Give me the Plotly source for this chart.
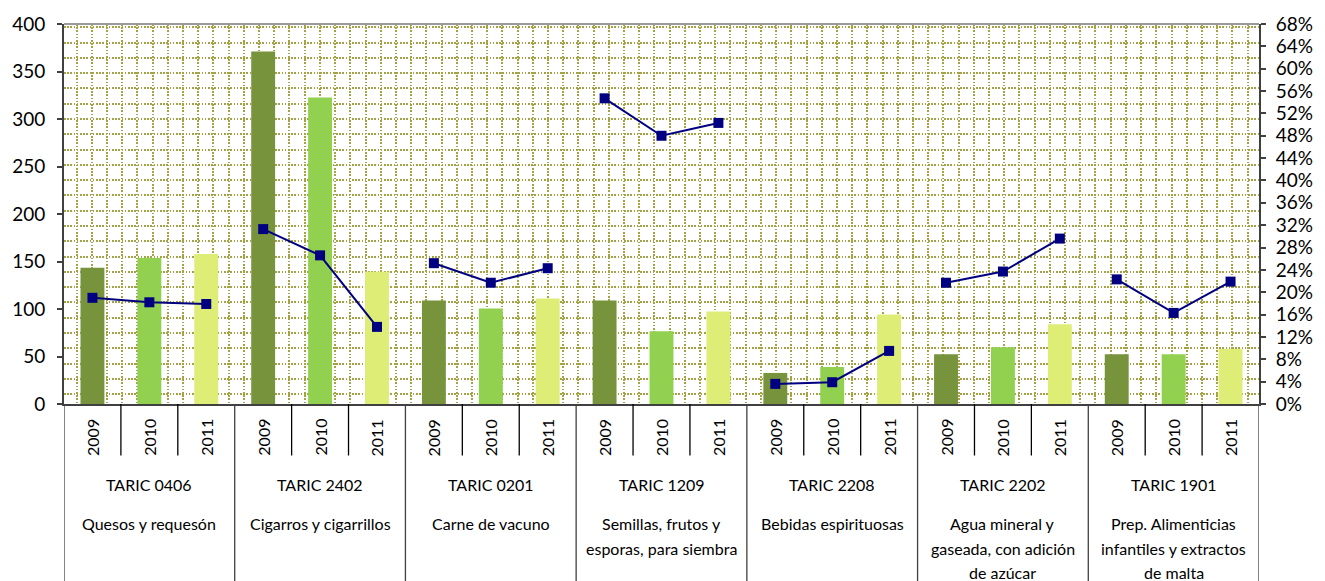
import plotly.graph_objects as go

# ---------------- data ----------------
codes = ["TARIC 0406", "TARIC 2402", "TARIC 0201", "TARIC 1209",
         "TARIC 2208", "TARIC 2202", "TARIC 1901"]
descriptions = [
    ["Quesos y requesón"],
    ["Cigarros y cigarrillos"],
    ["Carne de vacuno"],
    ["Semillas, frutos y", "esporas, para siembra"],
    ["Bebidas espirituosas"],
    ["Agua mineral y", "gaseada, con adición", "de azúcar"],
    ["Prep. Alimenticias", "infantiles y extractos", "de malta"],
]
years = ["2009", "2010", "2011"]

values_2009 = [143.5, 371.0, 109.0, 109.0, 32.7, 52.5, 52.5]
values_2010 = [153.8, 322.7, 100.6, 76.6, 39.0, 59.8, 52.5]
values_2011 = [158.0, 139.2, 111.0, 97.4, 94.3, 83.9, 58.0]

share_2009 = [0.190, 0.313, 0.252, 0.547, 0.036, 0.217, 0.223]
share_2010 = [0.182, 0.266, 0.217, 0.480, 0.039, 0.237, 0.163]
share_2011 = [0.179, 0.138, 0.243, 0.503, 0.095, 0.296, 0.219]

left_ticks = list(range(0, 401, 50))
right_ticks = [i / 100 for i in range(0, 69, 4)]

# ---------------- styling ----------------
FONT = "Lato"
bar_colors = {"2009": "#77933C", "2010": "#92D050", "2011": "#DDED75"}
line_color = "#000080"
axis_color = "#404040"
grid_color = "#A3A346"

cat = lambda c, y: f"{c} {y}"
categories = [cat(c, y) for c in codes for y in years]
values = {"2009": values_2009, "2010": values_2010, "2011": values_2011}
shares = [share_2009, share_2010, share_2011]

fig = go.Figure()

for y in years:
    fig.add_trace(go.Bar(
        x=[cat(c, y) for c in codes], y=values[y],
        marker=dict(color=bar_colors[y], line=dict(width=0)),
        width=0.42, name=y, showlegend=False,
    ))

for gi, c in enumerate(codes):
    fig.add_trace(go.Scatter(
        x=[cat(c, y) for y in years],
        y=[s[gi] for s in shares],
        yaxis="y2", mode="lines+markers",
        line=dict(color=line_color, width=2),
        marker=dict(symbol="square", size=10, color=line_color),
        showlegend=False,
    ))

# empty trace for the background dotted pattern axes
fig.add_trace(go.Scatter(x=[], y=[], xaxis="x3", yaxis="y3",
                         showlegend=False, hoverinfo="skip"))

# ---------------- category axis drawing ----------------
annotations = []
shapes = []
tfont = dict(family=FONT, size=16, color="#000000")
for gi, c in enumerate(codes):
    for y in years:
        annotations.append(dict(
            x=cat(c, y), xref="x", y=0, yref="paper", yshift=-33.5,
            text=y, showarrow=False, textangle=-90, font=tfont,
            xanchor="center", yanchor="middle"))
    mid = cat(c, years[1])
    annotations.append(dict(
        x=mid, xref="x", y=0, yref="paper", yshift=-80.5,
        text=c, showarrow=False, font=tfont,
        xanchor="center", yanchor="middle"))
    for li, line in enumerate(descriptions[gi]):
        annotations.append(dict(
            x=mid, xref="x", y=0, yref="paper", yshift=-119.5 - 24.5 * li,
            text=line, showarrow=False, font=tfont,
            xanchor="center", yanchor="middle"))

n = len(categories)
for i in range(n + 1):
    is_group = (i % len(years) == 0)
    shapes.append(dict(
        type="line", xref="x", yref="paper", x0=i - 0.5, x1=i - 0.5,
        ysizemode="pixel", yanchor=0, y0=0, y1=-178 if is_group else -51.5,
        line=dict(color=axis_color if is_group else "#000000", width=1.3)))

# top border of plot area
shapes.append(dict(type="line", xref="paper", yref="paper", x0=0, x1=1,
                   y0=1, y1=1, line=dict(color="#9a9a9a", width=2)))

fig.update_layout(
    width=1325, height=581,
    margin=dict(l=64, r=54, t=21, b=177),
    paper_bgcolor="white", plot_bgcolor="white",
    barmode="overlay",
    font=dict(family=FONT, color="#000000"),
    xaxis=dict(
        type="category", categoryorder="array", categoryarray=categories,
        range=[-0.5, n - 0.5], showticklabels=False, ticks="",
        showgrid=False, showline=True, linecolor=axis_color, linewidth=2,
        zeroline=False,
    ),
    yaxis=dict(
        range=[0, 400], tickvals=left_ticks, showgrid=False, zeroline=False,
        showline=True, linecolor=axis_color, linewidth=2,
        ticks="outside", ticklen=5, tickcolor=axis_color, tickwidth=1.5,
        tickfont=dict(family=FONT, size=19, color="#000000"),
        ticklabelstandoff=8,
    ),
    yaxis2=dict(
        range=[0, 0.68], tickvals=right_ticks, tickformat=".0%",
        overlaying="y", side="right", anchor="x",
        showgrid=False, zeroline=False,
        showline=True, linecolor=axis_color, linewidth=2,
        ticks="outside", ticklen=5, tickcolor=axis_color, tickwidth=1.5,
        tickfont=dict(family=FONT, size=19, color="#000000"),
        ticklabelstandoff=6,
    ),
    # background dotted-grid pattern (pixel-based axes)
    xaxis3=dict(
        overlaying="x", anchor="y3", range=[0, 1207],
        tick0=12.7, dtick=15.36, showgrid=True, gridcolor=grid_color,
        gridwidth=1.6, griddash="1.6px,1.6px", showticklabels=False, ticks="",
        zeroline=False, showline=False,
    ),
    yaxis3=dict(
        overlaying="y", anchor="x3", range=[0, 383],
        tick0=10, dtick=15.4, showgrid=True, gridcolor=grid_color,
        gridwidth=1.6, griddash="1.6px,1.6px", showticklabels=False, ticks="",
        zeroline=False, showline=False,
    ),
    annotations=annotations,
    shapes=shapes,
)

fig.write_html(
    "out.html",
    config={"displayModeBar": False},
    post_script="document.body.style.margin='0';document.body.style.overflow='hidden';",
)
